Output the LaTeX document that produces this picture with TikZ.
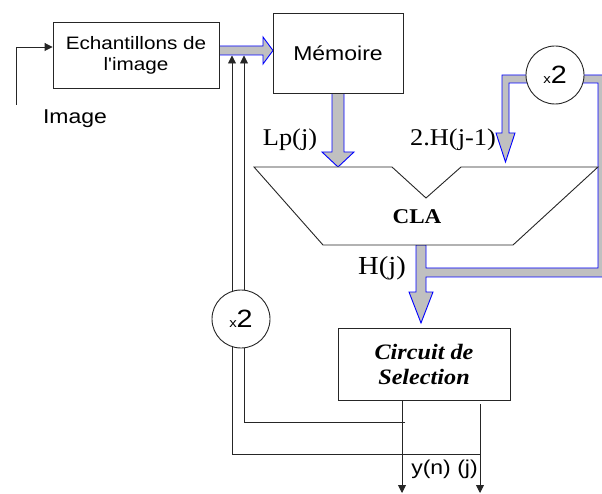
\documentclass[tikz,border=0pt]{standalone}
\usepackage{fontspec}
\setmainfont{Liberation Serif}
\newfontfamily\sansf[FakeStretch=1.15]{Liberation Sans}
\newfontfamily\seriff[FakeStretch=1.1]{Liberation Serif}
\usetikzlibrary{arrows.meta}
\definecolor{fatgray}{HTML}{C0C0C0}
\definecolor{fatblue}{HTML}{0000FF}
\definecolor{linegray}{HTML}{262626}
\tikzset{
  thinline/.style={draw=linegray, line width=0.9pt},
  tipped/.style={thinline, -{Triangle[length=8pt,width=8pt]}},
  box/.style={draw=linegray, line width=0.9pt, fill=white, inner sep=0pt, align=center},
  fat/.style={fill=fatgray, draw=fatblue, line width=0.9pt, line join=miter},
  circ/.style={circle, draw=linegray, line width=0.9pt, fill=white, minimum size=58pt, inner sep=0pt},
  sanslabel/.style={font=\sansf\fontsize{20pt}{22pt}\selectfont, inner sep=0pt},
  seriflabel/.style={font=\seriff\fontsize{24pt}{26pt}\selectfont, inner sep=0pt},
}
\newcommand{\timestwo}{{\sansf\fontsize{13pt}{13pt}\selectfont x}{\sansf\fontsize{25pt}{25pt}\selectfont 2}}
\begin{document}
\begin{tikzpicture}[x=1pt,y=-1pt]
\useasboundingbox[fill=white] (0,0) rectangle (602,494);

% fat arrows
\draw[fat] (219,46) -- (263,46) -- (263,37) -- (273,50.5) -- (263,64) -- (263,55) -- (219,55) -- cycle;
\draw[fat] (332,93) -- (332,152) -- (322,152) -- (338,167) -- (354,152) -- (344,152) -- (344,93) -- cycle;
\draw[fat] (416,245) -- (416,292) -- (409,292) -- (421,323) -- (433,292) -- (426,292) -- (426,277)
  -- (612,277) -- (612,75) -- (502,75) -- (502,133) -- (496,133) -- (505.5,162) -- (515,133)
  -- (509,133) -- (509,83) -- (598,83) -- (598,268) -- (426,268) -- (426,245) -- cycle;

% boxes
\node[box, minimum width=166pt, minimum height=66pt,
      font=\sansf\fontsize{18pt}{21pt}\selectfont] (ech) at (136,55) {Echantillons de\\l'image};
\node[box, minimum width=130pt, minimum height=80pt,
      font=\sansf\fontsize{20pt}{22pt}\selectfont] (mem) at (338,53) {Mémoire};
\node[box, minimum width=172pt, minimum height=72pt,
      font=\seriff\fontsize{22pt}{25pt}\selectfont\bfseries\itshape] (sel) at (424,364) {Circuit de\\Selection};

% CLA
\draw[thinline, fill=white] (254,167) -- (392,167) -- (426,198) -- (461,167) -- (598,167)
  -- (513,245) -- (323,245) -- cycle;
\node[font=\seriff\fontsize{21pt}{21pt}\selectfont\bfseries, inner sep=0pt] (cla) at (417,217) {CLA};

% coordinates
\coordinate (imgin) at (16,105);
\coordinate (t1) at (232,55.5);
\coordinate (t2) at (244,55.5);
\coordinate (y1) at (402,493);
\coordinate (y2) at (480,493);
\coordinate (s2) at (480,404);
\coordinate (j1) at (405,422);
\coordinate (j2) at (480,454);

% thin connectors
\draw[tipped] (imgin) |- ([yshift=8pt]ech.west);
\draw[tipped] (j2) -| (t1);
\draw[tipped] (j1) -| (t2);
\draw[tipped] (sel.south -| y1) -- (y1);
\draw[tipped] (s2) -- (y2);

% multipliers
\node[circ] (m1) at (555,75) {\timestwo};
\node[circ] (m2) at (241,319) {\timestwo};

% labels
\node[sanslabel, anchor=base] (lblimg) at (75,124) {Image};
\node[sanslabel, anchor=base] (lbly) at (444.5,474) {y(n) (j)};
\node[seriflabel, anchor=base] (lbllp) at (290,146) {Lp(j)};
\node[seriflabel, anchor=base] (lblh1) at (453,146) {2.H(j-1)};
\node[seriflabel, font=\seriff\fontsize{26pt}{26pt}\selectfont, anchor=base] (lblh) at (382,275) {H(j)};
\end{tikzpicture}
\end{document}
